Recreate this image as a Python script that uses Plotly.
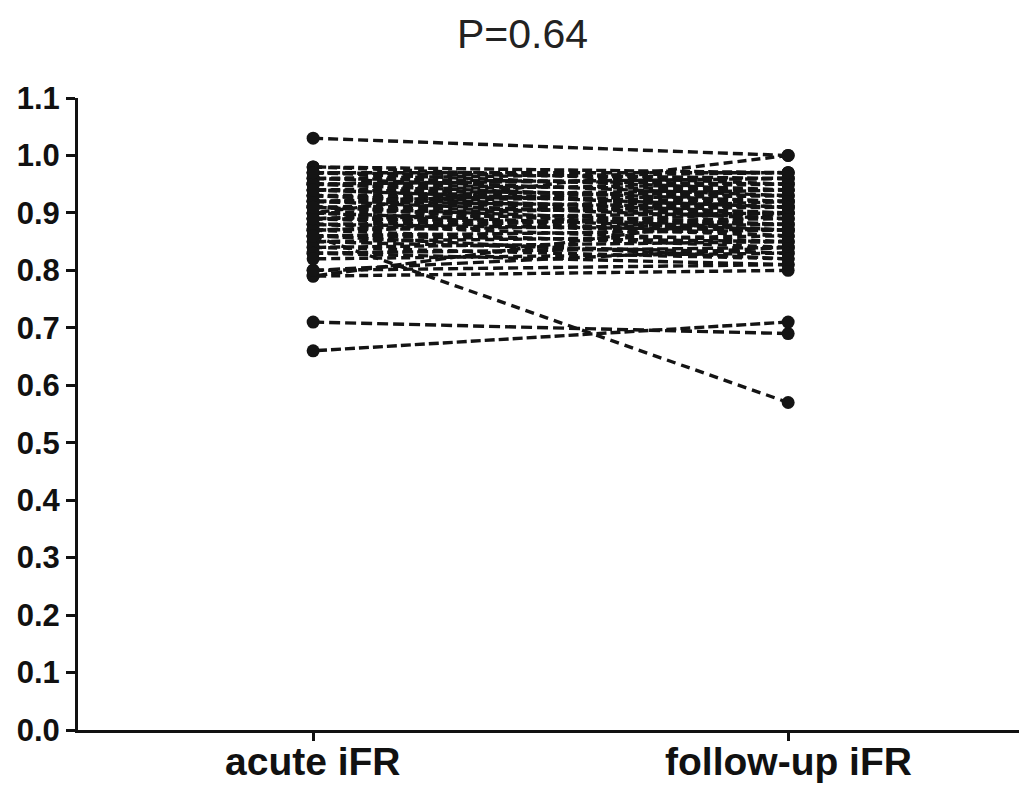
import plotly.graph_objects as go

categories = ["acute iFR", "follow-up iFR"]
title_text = "P=0.64"

acute_ifr = [1.03, 0.90, 0.71, 0.66, 0.86, 0.79, 0.80, 0.79, 0.80,
             0.98, 0.98, 0.97, 0.97, 0.96, 0.96, 0.96, 0.95, 0.95, 0.95,
             0.94, 0.94, 0.94, 0.93, 0.93, 0.93, 0.92, 0.92, 0.92, 0.91,
             0.91, 0.91, 0.90, 0.90, 0.89, 0.89, 0.89, 0.88, 0.88, 0.88,
             0.87, 0.87, 0.86, 0.86, 0.85, 0.85, 0.84, 0.84, 0.83, 0.83,
             0.82, 0.95, 0.92, 0.90, 0.87, 0.93, 0.89, 0.97, 0.91, 0.94, 0.86]

followup_ifr = [1.00, 1.00, 0.69, 0.71, 0.57, 0.90, 0.81, 0.80, 0.84,
                0.97, 0.95, 0.96, 0.94, 0.97, 0.93, 0.95, 0.96, 0.92, 0.94,
                0.95, 0.91, 0.93, 0.94, 0.90, 0.92, 0.93, 0.89, 0.91, 0.92,
                0.88, 0.90, 0.91, 0.87, 0.90, 0.86, 0.88, 0.89, 0.85, 0.87,
                0.88, 0.84, 0.87, 0.85, 0.86, 0.83, 0.85, 0.82, 0.84, 0.81,
                0.83, 0.96, 0.94, 0.86, 0.90, 0.89, 0.92, 0.97, 0.87, 0.91, 0.82]

y_ticks = [0.0, 0.1, 0.2, 0.3, 0.4, 0.5, 0.6, 0.7, 0.8, 0.9, 1.0, 1.1]

W, H = 1019, 785
ML, MR, MT, MB = 78, 0, 98, 55
PH = H - MT - MB
INK = "#141414"
dash_styles = ["10px,5px", "9px,5px", "11px,5px", "10px,4px", "9px,6px", "11px,4px"]

fig = go.Figure()
for i, (a, f) in enumerate(zip(acute_ifr, followup_ifr)):
    if i % 2 == 0:
        px, py = [0, 1], [a, f]
    else:
        px, py = [1, 0], [f, a]
    fig.add_trace(go.Scatter(
        x=px, y=py, mode="lines",
        line=dict(color=INK, width=3.4, dash=dash_styles[i % len(dash_styles)]),
        showlegend=False, hoverinfo="skip",
    ))

fig.add_trace(go.Scatter(
    x=[0] * len(acute_ifr) + [1] * len(followup_ifr),
    y=acute_ifr + followup_ifr, mode="markers",
    marker=dict(color=INK, size=13),
    showlegend=False, hoverinfo="skip",
))

annotations = [dict(
    text=title_text, x=(522 - ML) / (W - ML - MR), y=1 + (MT - 34) / PH,
    xref="paper", yref="paper", xanchor="center", yanchor="middle",
    showarrow=False, font=dict(family="Liberation Sans", size=41, color="#222"),
)]
for i, c in enumerate(categories):
    annotations.append(dict(
        text=c, x=i, xref="x", y=-(738 - (H - MB)) / PH, yref="paper",
        xanchor="center", yanchor="top", showarrow=False,
        font=dict(family="Liberation Sans", size=39, color="#111", weight="bold"),
    ))

fig.update_layout(
    width=W, height=H,
    margin=dict(l=ML, r=MR, t=MT, b=MB),
    paper_bgcolor="white", plot_bgcolor="white",
    showlegend=False,
    annotations=annotations,
)

fig.update_xaxes(
    range=[-0.495, 1.486], tickmode="array", tickvals=[0, 1],
    showticklabels=False,
    showline=True, linecolor="#111", linewidth=3, ticks="outside", ticklen=8,
    tickwidth=3, tickcolor="#111", showgrid=False, zeroline=False,
    automargin=False,
)
fig.update_yaxes(
    range=[0, 1.1], tickmode="array", tickvals=y_ticks,
    ticktext=[f"{v:.1f}" for v in y_ticks],
    showline=True, linecolor="#111", linewidth=3, ticks="outside", ticklen=9,
    tickwidth=3, tickcolor="#111", showgrid=False, zeroline=False,
    tickfont=dict(family="Liberation Sans", size=31, color="#111", weight="bold"),
    automargin=False,
)

fig.write_html("out.html")
